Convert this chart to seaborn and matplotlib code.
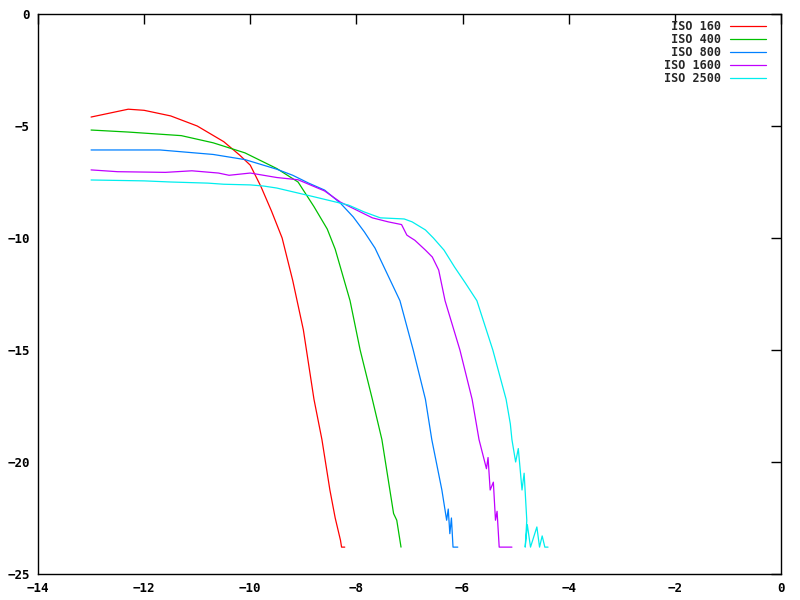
import numpy as np
import pandas as pd
import matplotlib
matplotlib.use("Agg")
import matplotlib.pyplot as plt
import seaborn as sns

labels = ["ISO 160", "ISO 400", "ISO 800", "ISO 1600", "ISO 2500"]
colors = ["#ff0000", "#00c000", "#0080ff", "#c000ff", "#00eeee"]

x160 = [-13.0, -12.7, -12.3, -12.0, -11.5, -11.0, -10.5, -10.2, -10.0, -9.8, -9.6, -9.4, -9.2, -9.0, -8.8, -8.65, -8.5, -8.4, -8.3, -8.28, -8.22]
y160 = [-4.6, -4.45, -4.25, -4.3, -4.55, -5.0, -5.7, -6.3, -6.75, -7.7, -8.8, -10.0, -11.9, -14.1, -17.2, -19.0, -21.25, -22.5, -23.5, -23.8, -23.8]

x400 = [-13.0, -12.3, -11.3, -10.7, -10.1, -9.5, -9.1, -8.8, -8.55, -8.4, -8.12, -7.93, -7.7, -7.52, -7.37, -7.3, -7.24, -7.2, -7.16]
y400 = [-5.18, -5.27, -5.43, -5.75, -6.2, -6.9, -7.5, -8.6, -9.6, -10.5, -12.8, -15.0, -17.2, -19.0, -21.25, -22.3, -22.6, -23.2, -23.8]

x800 = [-13.0, -11.7, -11.3, -10.7, -10.1, -9.5, -9.2, -8.9, -8.6, -8.3, -8.06, -7.85, -7.65, -7.18, -6.93, -6.7, -6.58, -6.39, -6.3, -6.27, -6.24, -6.21, -6.18, -6.09]
y800 = [-6.07, -6.07, -6.15, -6.27, -6.5, -6.93, -7.2, -7.55, -7.86, -8.45, -9.06, -9.73, -10.45, -12.8, -15.0, -17.2, -19.0, -21.25, -22.6, -22.1, -23.2, -22.5, -23.8, -23.8]

x1600 = [-13.0, -12.5, -11.6, -11.1, -10.6, -10.4, -10.0, -9.5, -9.1, -8.6, -8.3, -8.0, -7.7, -7.4, -7.15, -7.05, -7.0, -6.9, -6.7, -6.57, -6.45, -6.33, -6.05, -5.82, -5.69, -5.55, -5.52, -5.48, -5.42, -5.38, -5.35, -5.31, -5.07]
y1600 = [-6.96, -7.04, -7.07, -7.0, -7.1, -7.2, -7.1, -7.3, -7.4, -7.9, -8.4, -8.75, -9.1, -9.28, -9.4, -9.87, -9.95, -10.1, -10.54, -10.85, -11.43, -12.8, -15.0, -17.2, -19.0, -20.3, -19.8, -21.25, -20.9, -22.6, -22.2, -23.8, -23.8]

x2500 = [-13.0, -12.0, -11.5, -10.8, -10.5, -10.0, -9.75, -9.5, -8.8, -8.15, -7.85, -7.55, -7.1, -6.95, -6.7, -6.55, -6.35, -6.15, -5.95, -5.73, -5.43, -5.18, -5.1, -5.07, -5.0, -4.95, -4.88, -4.84, -4.79, -4.82, -4.78, -4.72, -4.6, -4.55, -4.5, -4.45, -4.39]
y2500 = [-7.41, -7.45, -7.5, -7.55, -7.6, -7.63, -7.68, -7.77, -8.16, -8.53, -8.84, -9.1, -9.15, -9.28, -9.64, -10.0, -10.54, -11.3, -12.0, -12.8, -15.0, -17.2, -18.3, -19.0, -20.0, -19.4, -21.25, -20.5, -22.6, -23.8, -22.8, -23.8, -22.9, -23.8, -23.3, -23.8, -23.8]

xs = [x160, x400, x800, x1600, x2500]
ys = [y160, y400, y800, y1600, y2500]

frames = []
for lab, xv, yv in zip(labels, xs, ys):
    frames.append(pd.DataFrame({"x": xv, "y": yv, "ISO": lab}))
df = pd.concat(frames, ignore_index=True)

sns.set_style("white")
plt.rcParams["font.family"] = ["DejaVu Sans Mono", "DejaVu Sans"]
plt.rcParams["font.weight"] = "bold"

fig = plt.figure(figsize=(8, 6), dpi=100)
ax = fig.add_axes([38 / 800, 1 - 574 / 600, (781 - 38) / 800, (574 - 14) / 600])

sns.lineplot(data=df, x="x", y="y", hue="ISO", hue_order=labels, palette=colors,
             sort=False, estimator=None, units="ISO", linewidth=0.9, ax=ax, legend=False)

ax.set_xlim(-14, 0)
ax.set_ylim(-25, 0)
ax.set_xticks(np.arange(-14, 1, 2))
ax.set_yticks(np.arange(-25, 1, 5))
ax.set_xlabel("")
ax.set_ylabel("")
ax.tick_params(direction="in", length=7, width=1, top=True, right=True,
               labelsize=9, colors="black", pad=6)
for lbl in ax.get_xticklabels() + ax.get_yticklabels():
    lbl.set_fontweight("bold")
for s in ax.spines.values():
    s.set_visible(True)
    s.set_color("black")
    s.set_linewidth(1)

width = max(len(l) for l in labels)
handles = [plt.Line2D([], [], color=c, linewidth=0.9) for c in colors]
leg = ax.legend(handles, [l.rjust(width) for l in labels], loc="upper right",
                markerfirst=False, frameon=False, handlelength=3.0,
                handletextpad=0.8, labelspacing=0.0, borderaxespad=0.2,
                borderpad=0.35, bbox_to_anchor=(0.988, 1.0),
                prop={"family": "DejaVu Sans Mono", "weight": "bold", "size": 8.5})

fig.savefig("out.png", dpi=100, facecolor="white")
